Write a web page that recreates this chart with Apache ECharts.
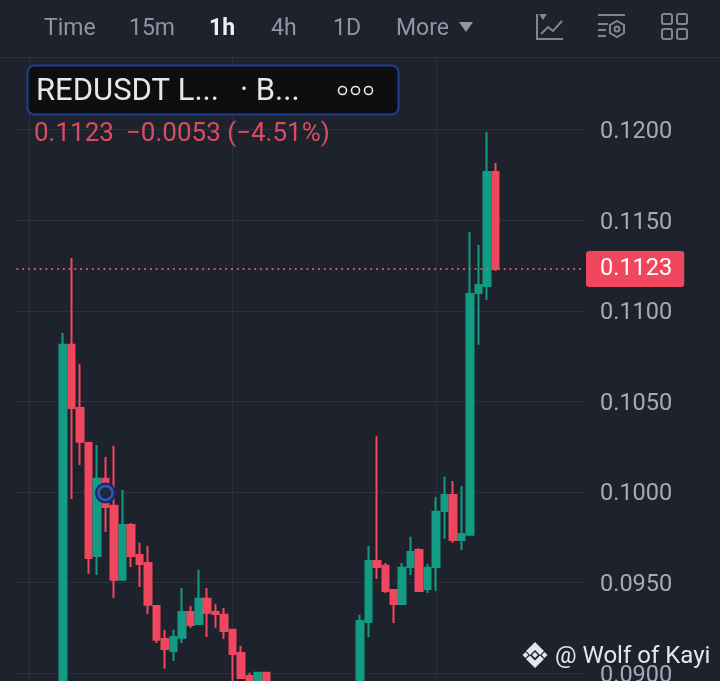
<!DOCTYPE html>
<html><head><meta charset="utf-8">
<style>html,body{margin:0;padding:0;background:#1e222d}#c{width:720px;height:681px}</style>
<script src="https://cdn.jsdelivr.net/npm/echarts@6/dist/echarts.min.js"></script>
</head><body><div id="c"></div>
<script>
// Candle values; first five and last ten slots are empty.
const candleStart = 5;
const slotCount = 67;
const opens = [0.0885,0.10812,0.10464,0.10271,0.09648,0.10073,0.09924,0.09516,0.09819,0.09653,0.09609,0.09372,0.09190,0.09124,0.09196,0.09339,0.09273,0.09411,0.09339,0.09323,0.09240,0.09113,0.08986,0.0880,0.09003,
 0.0885,0.0872,0.0866,0.0861,0.0866,0.0871,0.0869,0.0874,0.0878,0.0883,0.0880,0.09284,0.09620,0.09593,0.09460,0.09383,0.09587,0.09681,0.09466,0.09587,0.09896,0.09984,0.09736,0.09764,0.11098,0.11137,0.11766];
const closes = [0.10812,0.10464,0.10277,0.09637,0.10073,0.09918,0.09516,0.09819,0.09648,0.09604,0.09378,0.09185,0.09135,0.09201,0.09339,0.09267,0.09411,0.09334,0.09328,0.09234,0.09107,0.08975,0.0885,0.09003,0.0885,
 0.0872,0.0866,0.0861,0.0866,0.0871,0.0869,0.0874,0.0878,0.0883,0.0880,0.09289,0.09620,0.09587,0.09455,0.09383,0.09582,0.09670,0.09455,0.09582,0.09891,0.09984,0.09736,0.09769,0.11093,0.11142,0.11766,0.1123];
const lows = [0.0880,0.09962,0.10150,0.09549,0.09543,0.09780,0.09416,0.09516,0.09587,0.09477,0.09328,0.09168,0.09025,0.09069,0.09168,0.09251,0.09267,0.09201,0.09251,0.09190,0.08937,0.08975,0.0882,0.0875,0.0878,
 0.0868,0.0862,0.0858,0.0859,0.0863,0.0866,0.0867,0.0871,0.0875,0.0877,0.0878,0.09201,0.09521,0.09444,0.09278,0.09383,0.09543,0.09455,0.09444,0.09455,0.09742,0.09720,0.09681,0.09764,0.10812,0.11060,0.11220];
const highs = [0.10878,0.11291,0.10707,0.10277,0.10260,0.10194,0.10255,0.10012,0.09830,0.09720,0.09703,0.09372,0.09240,0.09240,0.09471,0.09372,0.09571,0.09471,0.09383,0.09361,0.09240,0.09152,0.09003,0.09003,0.09008,
 0.0888,0.0878,0.0871,0.0871,0.0875,0.0878,0.0880,0.0885,0.0889,0.0890,0.09323,0.09703,0.1031,0.09609,0.09460,0.09609,0.09753,0.09692,0.09604,0.09973,0.10084,0.10061,0.10034,0.11435,0.11363,0.11986,0.11815];
const yRange = {min:0.08958,max:0.125};
const yTickValues = [0.09,0.095,0.1,0.105,0.11,0.115,0.12];
const lastPrice = 0.1123;
const markerCandle = 10, markerPrice = 0.09995;
const tabs = [['Time',44,false],['15m',129,false],['1h',209,true],['4h',271,false],['1D',333,false],['More',396,false]];

const categories = Array.from({length:slotCount},(_,i)=>'h'+i);
const n = closes.length;
const candleData = categories.map((_,i)=>{
  const k=i-candleStart;
  if(k<0||k>=n) return ['-','-','-','-'];
  return [opens[k],closes[k],lows[k],highs[k]];
});
const BG='#1e222d',GRID='#2c303b',GREEN='#129c84',RED='#f0475f',MUTED='#8f96a3',ICON='#7f8692';
const T=(text,x,y,size,fill,weight)=>({type:'text',z:110,style:{text,x,y,fill,font:`${weight||400} ${size}px Roboto`,textVerticalAlign:'middle'}});
const els=[{type:'rect',z:100,shape:{x:0,y:0,width:720,height:57},style:{fill:BG}},
 {type:'rect',z:101,shape:{x:0,y:57,width:720,height:1},style:{fill:GRID}}];
tabs.forEach(t=>els.push(T(t[0],t[1],29,23,t[2]?'#eef0f3':MUTED,t[2]?700:400)));
els.push({type:'polygon',z:110,shape:{points:[[459,22],[473,22],[466,32]]},style:{fill:MUTED}});
const stroke={stroke:ICON,lineWidth:2,fill:'none'};
els.push({type:'polyline',z:110,shape:{points:[[537,14],[537,39],[563,39]]},style:stroke},
 {type:'polyline',z:110,shape:{points:[[541,34],[548,27],[553,31],[562,21]]},style:stroke},
 {type:'polygon',z:110,shape:{points:[[539,14],[547,14],[543,20]]},style:{fill:ICON}},
 {type:'polyline',z:110,shape:{points:[[598,15],[625,15]]},style:stroke},
 {type:'polyline',z:110,shape:{points:[[598,24],[608,24]]},style:stroke},
 {type:'polyline',z:110,shape:{points:[[598,30],[606,30]]},style:stroke},
 {type:'polyline',z:110,shape:{points:[[598,36],[606,36]]},style:stroke},
 {type:'polygon',z:110,shape:{points:[[617,21],[624,25],[624,33],[617,37],[610,33],[610,25]]},style:stroke},
 {type:'circle',z:110,shape:{cx:617,cy:29,r:2.5},style:stroke});
[[661,13],[676,13],[661,28],[676,28]].forEach(p=>els.push({type:'rect',z:110,shape:{x:p[0]+1,y:p[1]+1,width:10,height:10,r:2},style:stroke}));
els.push({type:'rect',z:110,shape:{x:27.5,y:65.5,width:371,height:49,r:7},style:{fill:'#0d0e10',stroke:'#1f3f92',lineWidth:2}},
 T('REDUSDT L...',36,92,31,'#e6e7e9'),T('· B...',240,92,31,'#e6e7e9'));
[342.5,355.5,368.5].forEach(cx=>els.push({type:'circle',z:111,shape:{cx,cy:90.5,r:4},style:{fill:'none',stroke:'#e6e7e9',lineWidth:1.6}}));
els.push(T('0.1123',34,134,26,'#d94c61'),T('−0.0053 (−4.51%)',126,134,26,'#d94c61'));
// Watermark
const wm='#e4e6ea';
els.push(
 {type:'polygon',z:120,shape:{points:[[535,642],[544,651],[540,655],[535,650],[530,655],[526,651]]},style:{fill:wm}},
 {type:'polygon',z:120,shape:{points:[[535,668],[544,659],[540,655.5],[535,660.5],[530,655.5],[526,659]]},style:{fill:wm}},
 {type:'polygon',z:120,shape:{points:[[535,652],[538,655],[535,658],[532,655]]},style:{fill:wm}},
 {type:'polygon',z:120,shape:{points:[[525.5,652],[528.5,655],[525.5,658],[522.5,655]]},style:{fill:wm}},
 {type:'polygon',z:120,shape:{points:[[544.5,652],[547.5,655],[544.5,658],[541.5,655]]},style:{fill:wm}},
 T('@ Wolf of Kayi',555,657,24,wm));
els.forEach(e=>e.silent=true);

const chart=echarts.init(document.getElementById('c'),null,{renderer:'canvas'});
chart.setOption({
 animation:false,backgroundColor:BG,
 grid:{left:16.5,right:135.5,top:38.83,bottom:0,containLabel:false,outerBoundsMode:'none'},
 xAxis:{type:'category',data:categories,boundaryGap:true,
  axisLine:{show:false},axisTick:{show:false},axisLabel:{show:false},
  splitLine:{show:true,alignWithLabel:true,interval:i=>i%24===1,lineStyle:{color:GRID,width:1}}},
 yAxis:{type:'value',position:'right',min:yRange.min,max:yRange.max,
  axisLine:{show:false},axisTick:{show:false,customValues:yTickValues},
  axisLabel:{customValues:yTickValues,margin:15.5,hideOverlap:false,
   formatter:v=>`{a|${v.toFixed(4)}}`,
   rich:{a:{padding:[5,0,0,0],color:'#a5abb6',fontFamily:'Roboto',fontSize:23.5}}},
  splitLine:{show:true,lineStyle:{color:GRID,width:1}}},
 series:[{type:'candlestick',data:candleData,barWidth:7,clip:true,
  itemStyle:{color:GREEN,color0:RED,borderColor:GREEN,borderColor0:RED,borderWidth:2},
  markLine:{silent:true,symbol:'none',animation:false,precision:4,
   lineStyle:{color:'#d9566c',type:[1.8,4],width:1.8},
   label:{show:true,position:'end',distance:1.5,formatter:lastPrice.toFixed(4),color:'#fff',backgroundColor:RED,borderRadius:3,
    fontFamily:'Roboto',fontSize:23.5,padding:[7,12,5,14]},
   data:[{yAxis:lastPrice}]},
  markPoint:{silent:true,animation:false,label:{show:false},data:[
   {coord:[markerCandle,markerPrice],symbol:'circle',symbolSize:21,itemStyle:{color:'#182a66'}},
   {coord:[markerCandle,markerPrice],symbol:'circle',symbolSize:14,itemStyle:{color:'#1f2838',borderColor:'#2f58bd',borderWidth:2.6}}
  ]}
 }],
 graphic:{elements:els}
});
</script></body></html>
